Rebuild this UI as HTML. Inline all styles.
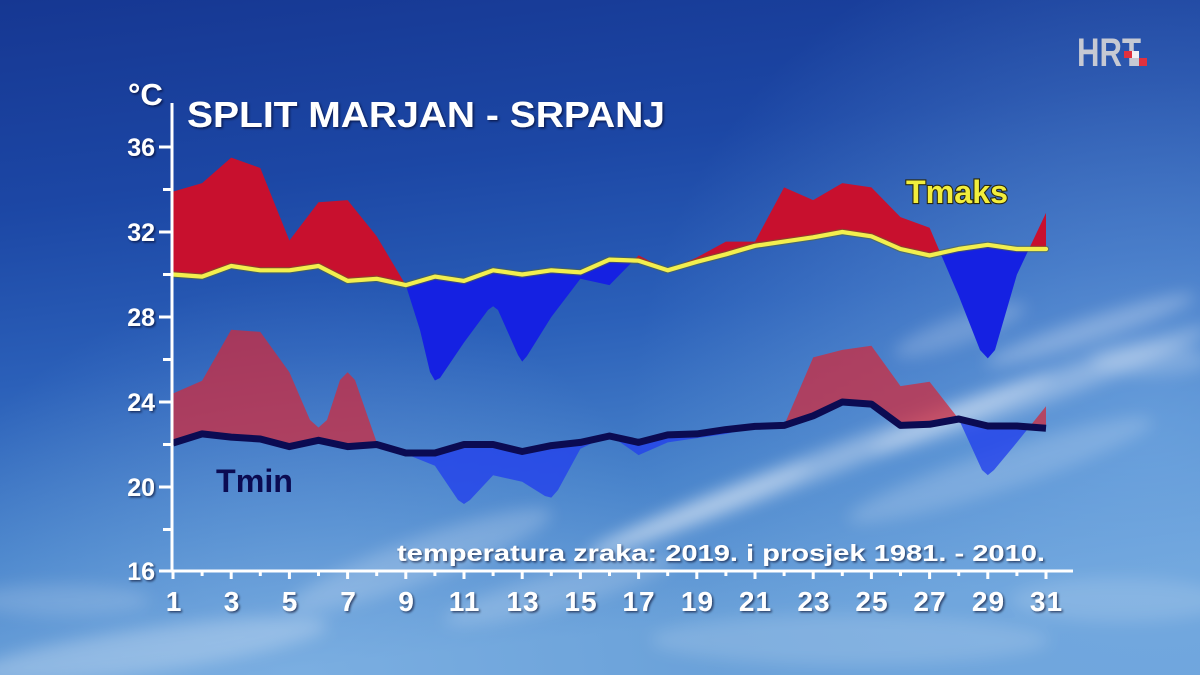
<!DOCTYPE html>
<html>
<head>
<meta charset="utf-8">
<style>
  html, body { margin:0; padding:0; background:#1d4aa6; }
  svg { display:block; }
  text { font-family: "Liberation Sans", "DejaVu Sans", sans-serif; font-weight:bold; }
</style>
</head>
<body>
<svg width="1200" height="675" viewBox="0 0 1200 675" xmlns="http://www.w3.org/2000/svg">
  <defs>
    <linearGradient id="bg" x1="0" y1="0" x2="0.2" y2="1">
      <stop offset="0" stop-color="#163792"/>
      <stop offset="0.3" stop-color="#1c47a5"/>
      <stop offset="0.55" stop-color="#2b60b9"/>
      <stop offset="0.8" stop-color="#4984cb"/>
      <stop offset="1" stop-color="#6aa1d9"/>
    </linearGradient>
    <radialGradient id="glowR" cx="1150" cy="430" r="520" gradientUnits="userSpaceOnUse">
      <stop offset="0" stop-color="#7fb3e8" stop-opacity="0.55"/>
      <stop offset="1" stop-color="#7fb3e8" stop-opacity="0"/>
    </radialGradient>
    <radialGradient id="glowB" cx="300" cy="700" r="420" gradientUnits="userSpaceOnUse">
      <stop offset="0" stop-color="#8cbcea" stop-opacity="0.5"/>
      <stop offset="1" stop-color="#8cbcea" stop-opacity="0"/>
    </radialGradient>
    <filter id="blur8" x="-20%" y="-50%" width="140%" height="200%"><feGaussianBlur stdDeviation="8"/></filter>
    <filter id="blur4" x="-20%" y="-50%" width="140%" height="200%"><feGaussianBlur stdDeviation="4"/></filter>
    <filter id="sh" x="-5%" y="-20%" width="110%" height="140%">
      <feDropShadow dx="1.5" dy="1.5" stdDeviation="1" flood-color="#000020" flood-opacity="0.6"/>
    </filter>
    <clipPath id="aboveMax">
      <polygon points="173,274.5 202.1,276.6 231.2,266 260.3,270.3 289.4,270.3 318.5,266 347.6,280.9 376.7,278.8 405.8,285.1 434.9,276.6 464,280.9 493.1,270.3 522.2,274.5 551.3,270.3 580.4,272.4 609.5,259.6 638.6,260.7 667.7,270.3 696.8,261.8 725.9,254.3 755,245.8 784.1,241.6 813.2,237.3 842.3,232 871.4,236.3 900.5,249 929.6,255.4 958.7,249 987.8,244.8 1016.9,249 1046,249 1046,0 173,0"/>
    </clipPath>
    <clipPath id="belowMax">
      <polygon points="173,274.5 202.1,276.6 231.2,266 260.3,270.3 289.4,270.3 318.5,266 347.6,280.9 376.7,278.8 405.8,285.1 434.9,276.6 464,280.9 493.1,270.3 522.2,274.5 551.3,270.3 580.4,272.4 609.5,259.6 638.6,260.7 667.7,270.3 696.8,261.8 725.9,254.3 755,245.8 784.1,241.6 813.2,237.3 842.3,232 871.4,236.3 900.5,249 929.6,255.4 958.7,249 987.8,244.8 1016.9,249 1046,249 1046,675 173,675"/>
    </clipPath>
    <clipPath id="aboveMin">
      <polygon points="173,443 202.1,433.9 231.2,437.1 260.3,439 289.4,446.6 318.5,440.3 347.6,446.6 376.7,444.5 405.8,453 434.9,453 464,444.5 493.1,444.5 522.2,451.5 551.3,445.6 580.4,442.4 609.5,436 638.6,442.4 667.7,434.9 696.8,433.9 725.9,429.6 755,426.4 784.1,425.4 813.2,415.8 842.3,402 871.4,404.1 900.5,425.4 929.6,424.3 958.7,419 987.8,426 1016.9,426 1046,428.3 1046,0 173,0"/>
    </clipPath>
    <clipPath id="belowMin">
      <polygon points="173,443 202.1,433.9 231.2,437.1 260.3,439 289.4,446.6 318.5,440.3 347.6,446.6 376.7,444.5 405.8,453 434.9,453 464,444.5 493.1,444.5 522.2,451.5 551.3,445.6 580.4,442.4 609.5,436 638.6,442.4 667.7,434.9 696.8,433.9 725.9,429.6 755,426.4 784.1,425.4 813.2,415.8 842.3,402 871.4,404.1 900.5,425.4 929.6,424.3 958.7,419 987.8,426 1016.9,426 1046,428.3 1046,675 173,675"/>
    </clipPath>
  </defs>

  <!-- background sky -->
  <rect x="0" y="0" width="1200" height="675" fill="url(#bg)"/>
  <rect x="0" y="0" width="1200" height="675" fill="url(#glowR)"/>
  <rect x="0" y="0" width="1200" height="675" fill="url(#glowB)"/>

  <!-- clouds -->
  <g fill="#ffffff" filter="url(#blur8)">
    <ellipse cx="820" cy="465" rx="250" ry="13" transform="rotate(-21 820 465)" opacity="0.35"/>
    <ellipse cx="700" cy="510" rx="120" ry="10" transform="rotate(-22 700 510)" opacity="0.3"/>
    <ellipse cx="1040" cy="390" rx="180" ry="14" transform="rotate(-20 1040 390)" opacity="0.3"/>
    <ellipse cx="1090" cy="330" rx="110" ry="12" transform="rotate(-18 1090 330)" opacity="0.28"/>
    <ellipse cx="960" cy="330" rx="70" ry="14" transform="rotate(-20 960 330)" opacity="0.2"/>
    <ellipse cx="1150" cy="360" rx="60" ry="16" opacity="0.2"/>
    <ellipse cx="1000" cy="470" rx="160" ry="20" transform="rotate(-18 1000 470)" opacity="0.18"/>
    <ellipse cx="420" cy="560" rx="140" ry="22" transform="rotate(-20 420 560)" opacity="0.2"/>
    <ellipse cx="560" cy="590" rx="120" ry="18" transform="rotate(-15 560 590)" opacity="0.18"/>
    <ellipse cx="150" cy="650" rx="180" ry="22" transform="rotate(-8 150 650)" opacity="0.25"/>
    <ellipse cx="60" cy="600" rx="90" ry="16" opacity="0.15"/>
    <ellipse cx="850" cy="640" rx="200" ry="25" opacity="0.15"/>
    <ellipse cx="1120" cy="600" rx="110" ry="22" opacity="0.15"/>
  </g>

  <!-- Tmax fills -->
  <g>
    <polygon clip-path="url(#aboveMax)" fill="#c8102e"
      points="173,191.6 202.1,183.1 231.2,157.6 260.3,168 289.4,240.5 318.5,202.3 347.6,200.1 376.7,236.3 405.8,285.1 420,330 430,372 434.9,380.5 440,378 464,342.5 488,310 493.1,306.3 498,310 518,355 522.2,361.6 527,356 551.3,317 580.4,278.8 609.5,285.1 638.6,255.4 667.7,270.3 696.8,257.5 725.9,241.6 755,241.6 784.1,187.4 813.2,200.1 842.3,183.1 871.4,187.4 900.5,217.1 929.6,227.8 958.7,295.8 980,350 987.8,358.4 995,350 1016.9,274.6 1046,212.9 1046,249 1016.9,249 987.8,244.8 958.7,249 929.6,255.4 900.5,249 871.4,236.3 842.3,232 813.2,237.3 784.1,241.6 755,245.8 725.9,254.3 696.8,261.8 667.7,270.3 638.6,260.7 609.5,259.6 580.4,272.4 551.3,270.3 522.2,274.5 493.1,270.3 464,280.9 434.9,276.6 405.8,285.1 376.7,278.8 347.6,280.9 318.5,266 289.4,270.3 260.3,270.3 231.2,266 202.1,276.6 173,274.5"/>
    <polygon clip-path="url(#belowMax)" fill="#1521e2"
      points="173,191.6 202.1,183.1 231.2,157.6 260.3,168 289.4,240.5 318.5,202.3 347.6,200.1 376.7,236.3 405.8,285.1 420,330 430,372 434.9,380.5 440,378 464,342.5 488,310 493.1,306.3 498,310 518,355 522.2,361.6 527,356 551.3,317 580.4,278.8 609.5,285.1 638.6,255.4 667.7,270.3 696.8,257.5 725.9,241.6 755,241.6 784.1,187.4 813.2,200.1 842.3,183.1 871.4,187.4 900.5,217.1 929.6,227.8 958.7,295.8 980,350 987.8,358.4 995,350 1016.9,274.6 1046,212.9 1046,249 1016.9,249 987.8,244.8 958.7,249 929.6,255.4 900.5,249 871.4,236.3 842.3,232 813.2,237.3 784.1,241.6 755,245.8 725.9,254.3 696.8,261.8 667.7,270.3 638.6,260.7 609.5,259.6 580.4,272.4 551.3,270.3 522.2,274.5 493.1,270.3 464,280.9 434.9,276.6 405.8,285.1 376.7,278.8 347.6,280.9 318.5,266 289.4,270.3 260.3,270.3 231.2,266 202.1,276.6 173,274.5"/>
  </g>

  <!-- Tmin fills -->
  <g>
    <polygon clip-path="url(#aboveMin)" fill="rgb(207,43,62)" fill-opacity="0.75"
      points="173,393.5 202.1,380.8 231.2,329.8 260.3,331.9 289.4,372.3 310,420 318.5,427.5 327,420 340,380 347.6,372.3 355,380 376.7,442.4 405.8,454 434.9,465.8 458,500 464,504 470,500 493.1,475.3 522.2,481.7 545,496 551.3,497.6 558,490 580.4,448.8 609.5,434.9 638.6,455.1 667.7,442.4 696.8,438.1 725.9,433.9 755,427.5 784.1,425.4 813.2,357.4 842.3,349.9 871.4,345.7 900.5,386.1 929.6,381.8 958.7,419 982,470 987.8,475.1 994,470 1016.9,442.4 1046,406.3 1046,428.3 1016.9,426 987.8,426 958.7,419 929.6,424.3 900.5,425.4 871.4,404.1 842.3,402 813.2,415.8 784.1,425.4 755,426.4 725.9,429.6 696.8,433.9 667.7,434.9 638.6,442.4 609.5,436 580.4,442.4 551.3,445.6 522.2,451.5 493.1,444.5 464,444.5 434.9,453 405.8,453 376.7,444.5 347.6,446.6 318.5,440.3 289.4,446.6 260.3,439 231.2,437.1 202.1,433.9 173,443"/>
    <polygon clip-path="url(#belowMin)" fill="rgb(35,65,235)" fill-opacity="0.8"
      points="173,393.5 202.1,380.8 231.2,329.8 260.3,331.9 289.4,372.3 310,420 318.5,427.5 327,420 340,380 347.6,372.3 355,380 376.7,442.4 405.8,454 434.9,465.8 458,500 464,504 470,500 493.1,475.3 522.2,481.7 545,496 551.3,497.6 558,490 580.4,448.8 609.5,434.9 638.6,455.1 667.7,442.4 696.8,438.1 725.9,433.9 755,427.5 784.1,425.4 813.2,357.4 842.3,349.9 871.4,345.7 900.5,386.1 929.6,381.8 958.7,419 982,470 987.8,475.1 994,470 1016.9,442.4 1046,406.3 1046,428.3 1016.9,426 987.8,426 958.7,419 929.6,424.3 900.5,425.4 871.4,404.1 842.3,402 813.2,415.8 784.1,425.4 755,426.4 725.9,429.6 696.8,433.9 667.7,434.9 638.6,442.4 609.5,436 580.4,442.4 551.3,445.6 522.2,451.5 493.1,444.5 464,444.5 434.9,453 405.8,453 376.7,444.5 347.6,446.6 318.5,440.3 289.4,446.6 260.3,439 231.2,437.1 202.1,433.9 173,443"/>
  </g>

  <!-- average lines -->
  <polyline fill="none" stroke="#5d6a2a" stroke-opacity="0.55" stroke-width="6.5" stroke-linejoin="round" stroke-linecap="round"
    points="173,274.5 202.1,276.6 231.2,266 260.3,270.3 289.4,270.3 318.5,266 347.6,280.9 376.7,278.8 405.8,285.1 434.9,276.6 464,280.9 493.1,270.3 522.2,274.5 551.3,270.3 580.4,272.4 609.5,259.6 638.6,260.7 667.7,270.3 696.8,261.8 725.9,254.3 755,245.8 784.1,241.6 813.2,237.3 842.3,232 871.4,236.3 900.5,249 929.6,255.4 958.7,249 987.8,244.8 1016.9,249 1046,249"/>
  <polyline fill="none" stroke="#f3ef4e" stroke-width="4.2" stroke-linejoin="round" stroke-linecap="round"
    points="173,274.5 202.1,276.6 231.2,266 260.3,270.3 289.4,270.3 318.5,266 347.6,280.9 376.7,278.8 405.8,285.1 434.9,276.6 464,280.9 493.1,270.3 522.2,274.5 551.3,270.3 580.4,272.4 609.5,259.6 638.6,260.7 667.7,270.3 696.8,261.8 725.9,254.3 755,245.8 784.1,241.6 813.2,237.3 842.3,232 871.4,236.3 900.5,249 929.6,255.4 958.7,249 987.8,244.8 1016.9,249 1046,249"/>
  <polyline fill="none" stroke="#0b0b52" stroke-width="7" stroke-linejoin="round" stroke-linecap="butt"
    points="173,443 202.1,433.9 231.2,437.1 260.3,439 289.4,446.6 318.5,440.3 347.6,446.6 376.7,444.5 405.8,453 434.9,453 464,444.5 493.1,444.5 522.2,451.5 551.3,445.6 580.4,442.4 609.5,436 638.6,442.4 667.7,434.9 696.8,433.9 725.9,429.6 755,426.4 784.1,425.4 813.2,415.8 842.3,402 871.4,404.1 900.5,425.4 929.6,424.3 958.7,419 987.8,426 1016.9,426 1046,428.3"/>

  <!-- axes -->
  <g stroke="#ffffff" stroke-width="3" fill="none">
    <line x1="172" y1="103" x2="172" y2="572.5"/>
    <line x1="170.5" y1="571" x2="1073" y2="571"/>
    <!-- y ticks major -->
    <line x1="159" y1="147" x2="172" y2="147"/>
    <line x1="159" y1="232" x2="172" y2="232"/>
    <line x1="159" y1="317" x2="172" y2="317"/>
    <line x1="159" y1="402" x2="172" y2="402"/>
    <line x1="159" y1="487" x2="172" y2="487"/>
    <line x1="159" y1="571" x2="172" y2="571"/>
    <!-- y ticks minor -->
    <line x1="163" y1="189.5" x2="172" y2="189.5"/>
    <line x1="163" y1="274.5" x2="172" y2="274.5"/>
    <line x1="163" y1="359.5" x2="172" y2="359.5"/>
    <line x1="163" y1="444.5" x2="172" y2="444.5"/>
    <line x1="163" y1="529.5" x2="172" y2="529.5"/>
  </g>
  <g stroke="#ffffff" stroke-width="3">
    <line x1="173" y1="571" x2="173" y2="579"/>
    <line x1="202.1" y1="571" x2="202.1" y2="576"/>
    <line x1="231.2" y1="571" x2="231.2" y2="579"/>
    <line x1="260.3" y1="571" x2="260.3" y2="576"/>
    <line x1="289.4" y1="571" x2="289.4" y2="579"/>
    <line x1="318.5" y1="571" x2="318.5" y2="576"/>
    <line x1="347.6" y1="571" x2="347.6" y2="579"/>
    <line x1="376.7" y1="571" x2="376.7" y2="576"/>
    <line x1="405.8" y1="571" x2="405.8" y2="579"/>
    <line x1="434.9" y1="571" x2="434.9" y2="576"/>
    <line x1="464" y1="571" x2="464" y2="579"/>
    <line x1="493.1" y1="571" x2="493.1" y2="576"/>
    <line x1="522.2" y1="571" x2="522.2" y2="579"/>
    <line x1="551.3" y1="571" x2="551.3" y2="576"/>
    <line x1="580.4" y1="571" x2="580.4" y2="579"/>
    <line x1="609.5" y1="571" x2="609.5" y2="576"/>
    <line x1="638.6" y1="571" x2="638.6" y2="579"/>
    <line x1="667.7" y1="571" x2="667.7" y2="576"/>
    <line x1="696.8" y1="571" x2="696.8" y2="579"/>
    <line x1="725.9" y1="571" x2="725.9" y2="576"/>
    <line x1="755" y1="571" x2="755" y2="579"/>
    <line x1="784.1" y1="571" x2="784.1" y2="576"/>
    <line x1="813.2" y1="571" x2="813.2" y2="579"/>
    <line x1="842.3" y1="571" x2="842.3" y2="576"/>
    <line x1="871.4" y1="571" x2="871.4" y2="579"/>
    <line x1="900.5" y1="571" x2="900.5" y2="576"/>
    <line x1="929.6" y1="571" x2="929.6" y2="579"/>
    <line x1="958.7" y1="571" x2="958.7" y2="576"/>
    <line x1="987.8" y1="571" x2="987.8" y2="579"/>
    <line x1="1016.9" y1="571" x2="1016.9" y2="576"/>
    <line x1="1046" y1="571" x2="1046" y2="579"/>
  </g>

  <!-- y labels -->
  <g fill="#ffffff" font-size="25" text-anchor="end" filter="url(#sh)">
    <text x="155" y="156">36</text>
    <text x="155" y="241">32</text>
    <text x="155" y="326">28</text>
    <text x="155" y="411">24</text>
    <text x="155" y="496">20</text>
    <text x="155" y="580">16</text>
  </g>

  <!-- x labels -->
  <g fill="#ffffff" font-size="28" text-anchor="middle" letter-spacing="1" filter="url(#sh)">
    <text x="174" y="611">1</text>
    <text x="232" y="611">3</text>
    <text x="290" y="611">5</text>
    <text x="348.5" y="611">7</text>
    <text x="406.5" y="611">9</text>
    <text x="464.5" y="611">11</text>
    <text x="523" y="611">13</text>
    <text x="581" y="611">15</text>
    <text x="639" y="611">17</text>
    <text x="697.5" y="611">19</text>
    <text x="755.5" y="611">21</text>
    <text x="814" y="611">23</text>
    <text x="872" y="611">25</text>
    <text x="930" y="611">27</text>
    <text x="988.5" y="611">29</text>
    <text x="1046.5" y="611">31</text>
  </g>

  <!-- titles -->
  <text x="128" y="105" font-size="31" fill="#ffffff" filter="url(#sh)">°C</text>
  <text x="187" y="127" font-size="36" fill="#ffffff" textLength="478" lengthAdjust="spacingAndGlyphs" filter="url(#sh)">SPLIT MARJAN - SRPANJ</text>
  <text x="397" y="561" font-size="23" fill="#ffffff" textLength="648" lengthAdjust="spacingAndGlyphs" filter="url(#sh)">temperatura zraka: 2019. i prosjek 1981. - 2010.</text>

  <!-- series labels -->
  <text x="906" y="203" font-size="32" fill="#f2ee3c" stroke="#2a2a10" stroke-width="2.2" paint-order="stroke" textLength="102" lengthAdjust="spacingAndGlyphs">Tmaks</text>
  <text x="216" y="492" font-size="32" fill="#0b0b52" textLength="77" lengthAdjust="spacingAndGlyphs">Tmin</text>

  <!-- HRT logo -->
  <g>
    <text x="1077" y="66" font-size="40" fill="#c6c9d3" textLength="64" lengthAdjust="spacingAndGlyphs">HRT</text>
    <rect x="1124" y="51" width="8" height="7" fill="#e0313f"/>
    <rect x="1132" y="51" width="7" height="7" fill="#f1f1f4"/>
    <rect x="1139" y="58" width="8" height="8" fill="#e0313f"/>
    <rect x="1132" y="58" width="7" height="8" fill="#c6c9d3"/>
  </g>
</svg>
</body>
</html>
